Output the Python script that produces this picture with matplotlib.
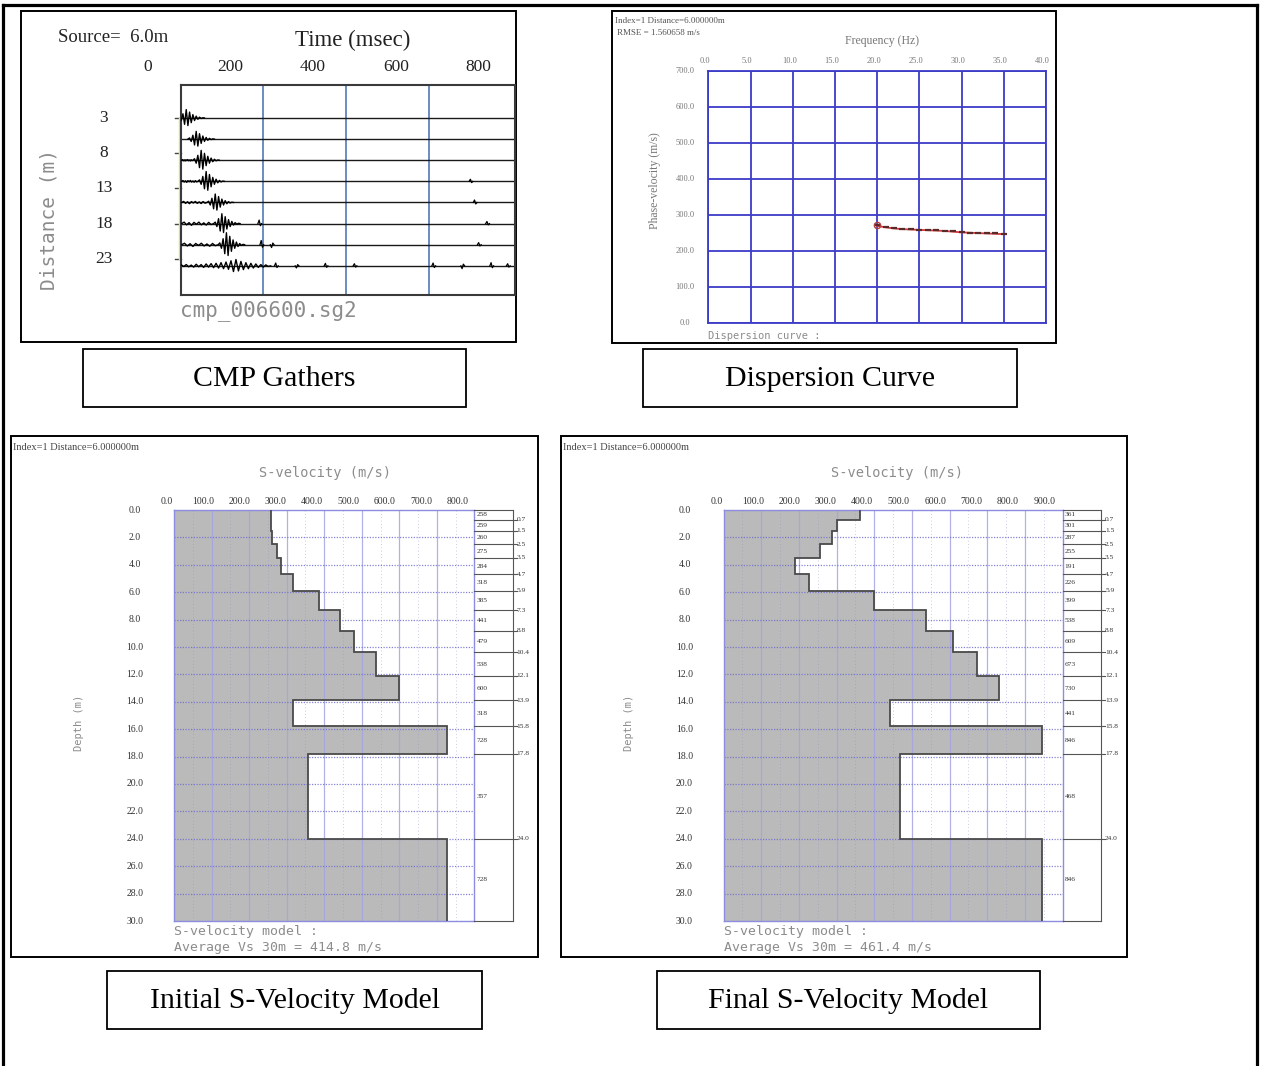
import matplotlib.pyplot as plt
from matplotlib.patches import Rectangle
from matplotlib.transforms import blended_transform_factory as blend

W, H = 1265, 1066
SERIF = "Liberation Serif"
MONO = "DejaVu Sans Mono"
plt.rcParams["font.family"] = SERIF

# ============================================================
# Data
# ============================================================
# CMP gather
trace_dist = [3, 6, 9, 12, 15, 18, 21, 24]          # m, last one is the trigger trace
dist_labels = [3, 8, 13, 18, 23]
time_labels = [0, 200, 400, 600, 800]
time_lines = [280, 480, 680]
pulse_peak_ms = [94, 118, 130, 142, 164, 180, 191]
pulse_amp = [1.2, 1.1, 1.4, 1.4, 1.2, 1.4, 1.7]
noise_amp = [0.0, 0.0, 0.15, 0.2, 0.25, 0.35, 0.35]
pulse_shape = [0.0, 0.15, -0.3, 0.5, -0.75, 1.0, -0.9, 0.7, -0.55, 0.4,
               -0.3, 0.22, -0.15, 0.1, -0.06, 0.03, 0.0]
noise_shape = [0.0, 0.6, -0.5, 0.4, -0.7, 0.5, -0.3, 0.6, -0.5, 0.3,
               -0.6, 0.5, -0.4, 0.0]
trigger_shape = [0.15, -0.1, 0.2, -0.15, 0.12, -0.2, 0.25, -0.15, 0.2, -0.25,
                 0.3, -0.2, 0.35, -0.3, 0.4, -0.35, 0.5, -0.45, 0.6, -0.55,
                 0.8, -0.9, 1.0, -0.8, 0.7, -0.6, 0.5, -0.45, 0.4, -0.35,
                 0.3, -0.25, 0.2, -0.2, 0.15, -0.1, 0.0]
trigger_amp = 0.9
later_blips = [(5, 270, 0.5), (6, 275, 0.6), (6, 300, -0.4), (3, 780, 0.3),
               (4, 790, 0.35), (5, 820, 0.3), (6, 800, 0.3), (7, 310, 0.4),
               (7, 360, -0.3), (7, 430, 0.35), (7, 500, 0.3), (7, 690, 0.4),
               (7, 760, -0.4), (7, 830, 0.45), (7, 870, 0.3)]

# Dispersion curve
freq_hz = [20, 21, 22, 23, 24, 25, 26, 27, 28, 29, 30, 31, 32, 33, 34, 35]
vphase_obs = [273, 266, 264, 262, 261, 259, 259, 258, 257, 255, 253, 251, 250, 249, 249, 248]
vphase_fit = [270, 266, 263, 261, 260, 259, 258, 257, 256, 254, 252, 251, 250, 249, 248, 247]

# S-velocity models
layer_bottoms = [0.7, 1.5, 2.5, 3.5, 4.7, 5.9, 7.3, 8.8, 10.4, 12.1, 13.9, 15.8, 17.8, 24.0, 30.0]
vs_initial = [258, 259, 260, 275, 284, 318, 385, 441, 479, 538, 600, 318, 728, 357, 728]
vs_final = [361, 301, 287, 255, 191, 226, 399, 538, 609, 673, 730, 441, 846, 468, 846]
vs30_initial = 414.8
vs30_final = 461.4

# ============================================================
# Figure and a pixel-coordinate background layer
# ============================================================
fig = plt.figure(figsize=(W / 100, H / 100), dpi=100)
bg = fig.add_axes([0, 0, 1, 1])
bg.set_xlim(0, W)
bg.set_ylim(H, 0)
bg.axis("off")


def px_axes(x0, y0, x1, y1):
    return fig.add_axes([x0 / W, 1 - y1 / H, (x1 - x0) / W, (y1 - y0) / H])


def box(x0, y0, x1, y1, lw=1.4):
    bg.add_patch(Rectangle((x0, y0), x1 - x0, y1 - y0, fill=False, ec="black", lw=lw))


# outer frame (open at the bottom)
bg.plot([3, 3], [5, H], color="black", lw=2.3)
bg.plot([1257, 1257], [5, H], color="black", lw=2.3)
bg.plot([3, 1257], [5, 5], color="black", lw=2.3)

# panel frames
box(21, 11, 516, 342)
box(612, 11, 1056, 343)
box(11, 436, 538, 957)
box(561, 436, 1127, 957)

# caption boxes
captions = [((83, 349, 466, 407), "CMP Gathers"),
            ((643, 349, 1017, 407), "Dispersion Curve"),
            ((107, 971, 482, 1029), "Initial S-Velocity Model"),
            ((657, 971, 1040, 1029), "Final S-Velocity Model")]
for (x0, y0, x1, y1), txt in captions:
    box(x0, y0, x1, y1, lw=1.3)
    bg.text((x0 + x1) / 2, (y0 + y1) / 2 + 1, txt, ha="center", va="center",
            fontsize=21.5, family=SERIF, color="black")

# ============================================================
# 1) CMP gather
# ============================================================
cx0, cy0, cx1, cy1 = 180.7, 84.7, 514.7, 294.7
ax = px_axes(cx0, cy0, cx1, cy1)
ax.set_xlim(80.6, 887)
ax.set_ylim(28.1, -1.73)
ax.set_xticks([])
ax.set_yticks([])
for s in ax.spines.values():
    s.set_color("#3a3a3a")
    s.set_linewidth(1.5)

for t in time_lines:
    ax.axvline(t, color="#5f84bb", lw=1.3, zorder=1)
for d in trace_dist:
    ax.axhline(d, color="#1a1a1a", lw=1.0, zorder=2)

t_start = 83
for i, d in enumerate(trace_dist[:-1]):
    onset = pulse_peak_ms[i] - 20
    ts, ys = [], []
    if noise_amp[i] > 0:
        step = (onset - t_start) / (len(noise_shape) - 1)
        ts += [t_start + step * k for k in range(len(noise_shape))]
        ys += [d - noise_amp[i] * v for v in noise_shape]
    ts += [onset + 4 * k for k in range(len(pulse_shape))]
    ys += [d - pulse_amp[i] * v for v in pulse_shape]
    ax.plot(ts, ys, color="black", lw=1.0, zorder=3)

d_trig = trace_dist[-1]
ax.plot([82 + 6 * k for k in range(len(trigger_shape))],
        [d_trig - trigger_amp * v for v in trigger_shape], color="black", lw=1.0, zorder=3)

for i, t, a in later_blips:
    d = trace_dist[i]
    ax.plot([t - 3, t, t + 3, t + 6], [d, d - a, d + 0.6 * a, d], color="black", lw=0.9, zorder=3)

tr_x = blend(ax.transData, ax.transAxes)
tr_y = blend(ax.transAxes, ax.transData)
for t in time_labels:
    ax.text(t, 1 + (cy0 - 67.3) / (cy1 - cy0), str(t), transform=tr_x, ha="center",
            va="center", fontsize=12.5, color="#222", clip_on=False)
for d in dist_labels:
    ax.text((104 - cx0) / (cx1 - cx0), d, str(d), transform=tr_y, ha="center",
            va="center", fontsize=12.5, color="#222", clip_on=False)
    ax.plot([-6 / (cx1 - cx0), 0], [d, d], transform=tr_y, color="#444", lw=1.0, clip_on=False)
ax.plot([-1.5 / (cx1 - cx0)] * 2, [3, 23], transform=tr_y, color="#e4e48a", lw=1.0, clip_on=False)

bg.text(58, 37, "Source=  6.0m", ha="left", va="center", fontsize=13.5, color="#222")
bg.text(353, 40, "Time (msec)", ha="center", va="center", fontsize=16.5, color="#222")
bg.text(49, 220, "Distance (m)", rotation=90, ha="center", va="center", fontsize=14,
        family=MONO, color="#8c8c8c")
bg.text(180, 311, "cmp_006600.sg2", ha="left", va="center", fontsize=15,
        family=MONO, color="#8c8c8c")
bg.text(186, 281, "Trigger", ha="left", va="center", fontsize=9, fontweight="bold",
        family="DejaVu Sans", color="#222")

# ============================================================
# 2) Dispersion curve
# ============================================================
dx0, dy0, dx1, dy1 = 708.3, 71.3, 1046, 323
ax = px_axes(dx0, dy0, dx1, dy1)
ax.set_xlim(0, 40)
ax.set_ylim(0, 700)
ax.set_xticks(range(0, 41, 5))
ax.set_yticks(range(0, 701, 100))
ax.tick_params(length=0, labelbottom=False, labelleft=False)
ax.grid(True, color="#3c3cc8", lw=1.3)
for s in ax.spines.values():
    s.set_color("#3c3cc8")
    s.set_linewidth(1.3)

ax.plot(freq_hz, vphase_fit, color="#d03a3a", lw=1.3, zorder=3)
ax.plot(freq_hz, vphase_obs, ls="none", marker="_", ms=4, mew=1.6, color="#5a2a2a", zorder=4)
ax.plot(freq_hz[:1], vphase_obs[:1], ls="none", marker="o", ms=4.5, mfc="none",
        mec="#b04040", zorder=4)

tr_x = blend(ax.transData, ax.transAxes)
tr_y = blend(ax.transAxes, ax.transData)
for f in range(0, 41, 5):
    ax.text(f - 0.4, 1 + 10 / (dy1 - dy0), f"{f:.1f}", transform=tr_x, ha="center",
            va="center", fontsize=6, color="#777", clip_on=False)
for v in range(0, 701, 100):
    ax.text((685 - dx0) / (dx1 - dx0), v, f"{v:.1f}", transform=tr_y, ha="center",
            va="center", fontsize=6, color="#777", clip_on=False)

bg.text(615, 21, "Index=1 Distance=6.000000m", ha="left", va="center", fontsize=6.5, color="#555")
bg.text(617, 33, "RMSE = 1.560658 m/s", ha="left", va="center", fontsize=6.5, color="#555")
bg.text(882, 41, "Frequency (Hz)", ha="center", va="center", fontsize=8.5, color="#777")
bg.text(655, 181, "Phase-velocity (m/s)", rotation=90, ha="center", va="center",
        fontsize=8.5, color="#777")
bg.text(708, 336, "Dispersion curve :", ha="left", va="center", fontsize=7.5,
        family=MONO, color="#8c8c8c")


# ============================================================
# 3) S-velocity models
# ============================================================
def velocity_panel(plot_px, vs, vmax, vs30, title_x, index_x):
    x0, y0, x1, y1 = plot_px
    ax = px_axes(x0, y0, x1, y1)
    ax.set_xlim(0, vmax)
    ax.set_ylim(30, 0)
    ax.set_xticks([])
    ax.set_yticks([])
    for s in ax.spines.values():
        s.set_color("#8c8ce0")
        s.set_linewidth(1.0)
    pxu = (x1 - x0) / vmax
    edges = [0.0] + layer_bottoms

    ax.stairs(vs, edges, orientation="horizontal", baseline=0, fill=True,
              color="#bababa", zorder=1)
    ax.stairs(vs, edges, orientation="horizontal", baseline=None,
              color="#4a4a4a", lw=1.3, zorder=4)

    for v in range(100, vmax, 100):
        ax.axvline(v, color="#a4a4e4", lw=0.9, alpha=0.85, zorder=2)
    for v in range(50, vmax, 100):
        ax.axvline(v, color="#8c8cd0", lw=0.6, ls=(0, (1, 3)), alpha=0.6, zorder=2)
    for d in range(2, 30, 2):
        ax.axhline(d, color="#6e6ed0", lw=0.9, ls=(0, (1, 1.2)), alpha=0.85, zorder=2)

    # layer table to the right of the plot
    col = 38.4 / pxu
    kw = dict(color="#555", lw=0.8, clip_on=False, zorder=5)
    ax.plot([vmax + col] * 2, [0, 30], **kw)
    ax.plot([vmax, vmax + col], [0, 0], **kw)
    ax.plot([vmax, vmax + col], [30, 30], **kw)
    top = 0.0
    for v, b in zip(vs, layer_bottoms):
        ax.text(vmax + 2 / pxu, (top + b) / 2, str(v), ha="left", va="center",
                fontsize=5.3, color="#333", clip_on=False)
        if b < 30:
            ax.plot([vmax, vmax + col + 4 / pxu], [b, b], **kw)
            ax.text(vmax + col + 4 / pxu, b, f"{b:.1f}", ha="left", va="center",
                    fontsize=5.3, color="#333", clip_on=False)
        top = b

    tr_x = blend(ax.transData, ax.transAxes)
    tr_y = blend(ax.transAxes, ax.transData)
    for v in range(0, vmax + 1, 100):
        ax.text(v - (7 + 1.25 * v / 100) / pxu, 1 + 9 / (y1 - y0), f"{v:.1f}",
                transform=tr_x, ha="center", va="center", fontsize=7, color="#333",
                clip_on=False)
    for d in range(0, 31, 2):
        ax.text(-39 / (x1 - x0), d, f"{d:.1f}", transform=tr_y, ha="center",
                va="center", fontsize=7, color="#333", clip_on=False)

    bg.text(index_x, 447, "Index=1 Distance=6.000000m", ha="left", va="center",
            fontsize=7.5, color="#444")
    bg.text(title_x, 473, "S-velocity (m/s)", ha="center", va="center", fontsize=9.8,
            family=MONO, color="#8c8c8c")
    bg.text(x0 - 95, 723, "Depth (m)", rotation=90, ha="center", va="center",
            fontsize=7.5, family=MONO, color="#8c8c8c")
    bg.text(x0, 931, "S-velocity model :", ha="left", va="center", fontsize=9.5,
            family=MONO, color="#8c8c8c")
    bg.text(x0, 947, f"Average Vs 30m = {vs30:.1f} m/s", ha="left", va="center",
            fontsize=9.5, family=MONO, color="#8c8c8c")


velocity_panel((174, 510, 474.4, 921), vs_initial, 800, vs30_initial, 325, 13)
velocity_panel((723.5, 510, 1062.7, 921), vs_final, 900, vs30_final, 897, 563)

fig.savefig("out.png", dpi=100)
